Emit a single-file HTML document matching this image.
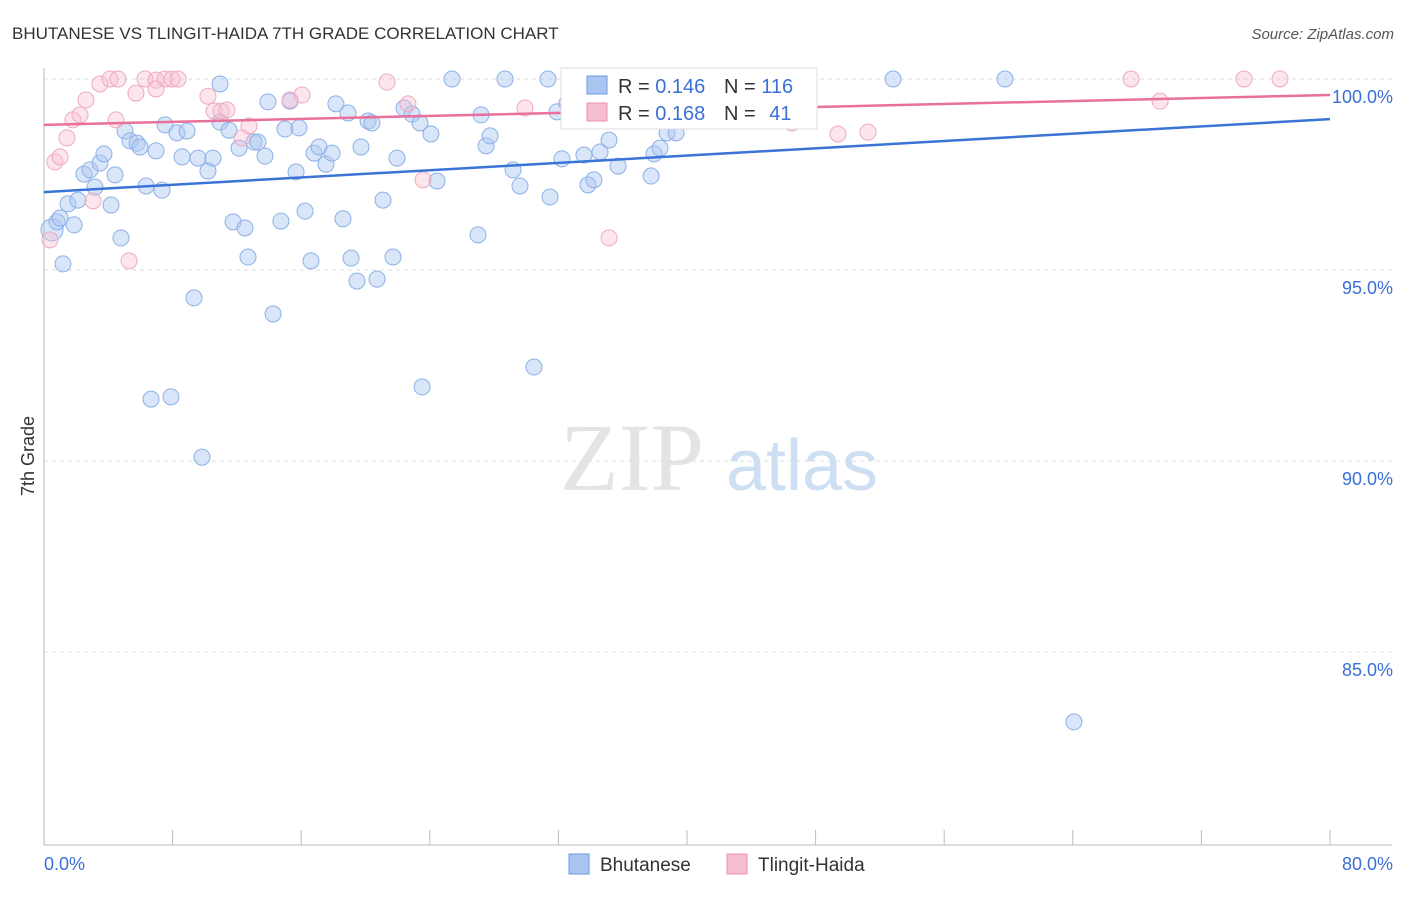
<!DOCTYPE html>
<html><head><meta charset="utf-8"><style>
body{margin:0;background:#fff;font-family:"Liberation Sans",sans-serif}
</style></head><body>
<svg id="chart" width="1406" height="892" xmlns="http://www.w3.org/2000/svg" font-family="Liberation Sans, sans-serif">
<text x="12" y="39" font-size="17" fill="#333">BHUTANESE VS TLINGIT-HAIDA 7TH GRADE CORRELATION CHART</text>
<text x="1394" y="39" font-size="15" fill="#555" font-style="italic" text-anchor="end">Source: ZipAtlas.com</text>
<text x="34" y="456" font-size="18" fill="#333" text-anchor="middle" transform="rotate(-90 34 456)">7th Grade</text>
<text x="632" y="490" font-size="96" fill="#e4e4e4" font-family="Liberation Serif, serif" text-anchor="middle">ZIP</text>
<text x="802" y="490" font-size="72" fill="#cfdff3" text-anchor="middle">atlas</text>
<g id="grid"></g><g id="axes"></g><g id="pts"></g><g id="trends"></g>
<g>
<rect x="561" y="68" width="256" height="61" fill="#fff" stroke="#ddd"/>
<rect x="587" y="76" width="20" height="18" fill="#a9c6f0" stroke="#6f9be0"/>
<text x="618" y="93" font-size="20" fill="#333">R = <tspan fill="#3a6fd8">0.146</tspan></text>
<text x="724" y="93" font-size="20" fill="#333">N = <tspan fill="#3a6fd8">116</tspan></text>
<rect x="587" y="103" width="20" height="18" fill="#f6bcd0" stroke="#e890b0"/>
<text x="618" y="120" font-size="20" fill="#333">R = <tspan fill="#3a6fd8">0.168</tspan></text>
<text x="724" y="120" font-size="20" fill="#333">N = <tspan fill="#3a6fd8" dx="8">41</tspan></text>
</g>
<g>
<rect x="569" y="854" width="20" height="20" fill="#a9c6f0" stroke="#6f9be0"/>
<text x="600" y="871" font-size="19" fill="#333">Bhutanese</text>
<rect x="727" y="854" width="20" height="20" fill="#f6bcd0" stroke="#e890b0"/>
<text x="758" y="871" font-size="19" fill="#333">Tlingit-Haida</text>
</g>
</svg>
<script>
const xTicks=[0,80];
const yTicks=[100,95,90,85];
const blueX=[0.50,0.81,1.00,1.18,1.49,1.87,2.11,2.49,2.86,3.17,3.48,3.73,4.17,4.42,4.79,5.04,5.35,5.79,5.97,6.35,6.66,6.97,7.34,7.53,7.90,8.27,8.59,8.90,9.33,9.58,9.83,10.20,10.51,10.95,10.95,11.51,11.76,12.13,12.50,12.69,13.06,13.31,13.75,13.93,14.25,14.74,14.99,15.30,15.68,15.86,16.24,16.61,16.80,17.11,17.54,17.92,18.16,18.60,18.91,19.10,19.47,19.72,20.16,20.40,20.72,21.09,21.71,21.96,22.40,22.89,23.39,23.52,24.07,24.45,25.38,27.00,27.19,27.50,27.75,28.68,29.18,29.61,30.48,31.35,31.48,31.91,32.22,32.54,33.59,33.84,34.21,34.59,35.15,35.71,37.45,37.76,37.95,38.32,38.76,39.32,40.37,42.99,45.16,46.28,52.82,59.78,64.07];
const blueY=[96.05,96.26,96.36,95.16,96.73,96.18,96.83,97.51,97.62,97.17,97.80,98.04,96.70,97.49,95.84,98.64,98.38,98.32,98.22,97.20,91.62,98.12,97.09,98.80,91.68,98.59,97.96,98.64,94.27,97.93,90.10,97.59,97.93,99.87,98.87,98.66,96.26,98.19,96.10,95.34,98.35,98.35,97.98,99.40,93.85,96.28,98.69,99.42,97.57,98.72,96.54,95.24,98.06,98.22,97.77,98.06,99.35,96.34,99.11,95.31,94.71,98.22,98.90,98.85,94.76,96.83,95.34,97.93,99.24,99.08,98.85,91.94,98.56,97.33,100,95.92,99.06,98.25,98.51,100,97.62,97.20,92.46,100,96.91,99.14,97.91,99.37,98.01,97.23,97.36,98.09,98.40,97.72,98.93,97.46,98.04,98.19,98.59,98.59,99.27,100,100,100,100,100,83.17];
const pinkX=[0.37,0.68,1.00,1.43,1.80,2.24,2.61,3.05,3.48,4.11,4.60,4.48,5.29,5.72,6.28,6.97,6.97,7.53,7.96,8.34,10.20,10.58,11.01,11.38,12.32,12.75,15.30,16.05,21.34,22.64,23.58,29.92,35.15,36.64,46.53,49.39,51.26,67.62,69.43,74.65,76.89];
const pinkY=[95.79,97.83,97.96,98.46,98.93,99.06,99.45,96.81,99.87,100,100,98.93,95.24,99.63,100,99.97,99.74,100,100,100,99.55,99.16,99.16,99.19,98.46,98.77,99.45,99.58,99.92,99.35,97.36,99.24,95.84,100,98.85,98.56,98.61,100,99.42,100,100];
const blueTrend=[97.04,98.95];
const pinkTrend=[98.80,99.58];
const NS='http://www.w3.org/2000/svg';
const sx=v=>44+v/80*1286;
const sy=v=>79+(100-v)*38.2;
function mk(tag,attrs,parent){const e=document.createElementNS(NS,tag);for(const k in attrs)e.setAttribute(k,attrs[k]);document.getElementById(parent).appendChild(e);return e;}
yTicks.forEach(t=>{
 const l=mk('line',{x1:44,x2:1392,y1:sy(t),y2:sy(t),stroke:'#ddd','stroke-dasharray':'4 4'},'grid');
 
 
 const tx=mk('text',{x:1393,y:sy(t)+24,'font-size':18,fill:'#3a6fd8','text-anchor':'end'},'grid');
 tx.textContent=t.toFixed(1)+'%';
 
 
});
const ax=mk('line',{x1:44,x2:44,y1:68,y2:845,stroke:'#bbb'},'axes');


const bx=mk('line',{x1:44,x2:1392,y1:845,y2:845,stroke:'#bbb'},'axes');


for(let i=0;i<=10;i++){
 const tk=mk('line',{x1:sx(i*8),x2:sx(i*8),y1:830,y2:845,stroke:'#bbb'},'axes');
 
 
}
xTicks.forEach((t,i)=>{
 const tx=mk('text',{x:i==0?44:1393,y:870,'font-size':18,fill:'#3a6fd8','text-anchor':i==0?'start':'end'},'axes');
 tx.textContent=t.toFixed(1)+'%';
 
 
});
blueX.forEach((x,i)=>{
 const c=mk('circle',{cx:sx(x),cy:sy(blueY[i]),r:i==0?11:8,fill:'rgba(170,200,242,0.45)',stroke:'#8cb0e6','stroke-width':1},'pts');
 
 
});
pinkX.forEach((x,i)=>{
 const c=mk('circle',{cx:sx(x),cy:sy(pinkY[i]),r:8,fill:'rgba(247,190,210,0.4)',stroke:'#eeaac2','stroke-width':1},'pts');
 
 
});
const bt=mk('line',{x1:sx(0),x2:sx(80),y1:sy(blueTrend[0]),y2:sy(blueTrend[1]),stroke:'#3a74d6','stroke-width':2.5},'trends');


const pt=mk('line',{x1:sx(0),x2:sx(80),y1:sy(pinkTrend[0]),y2:sy(pinkTrend[1]),stroke:'#e8709a','stroke-width':2.5},'trends');


</script>
</body></html>
